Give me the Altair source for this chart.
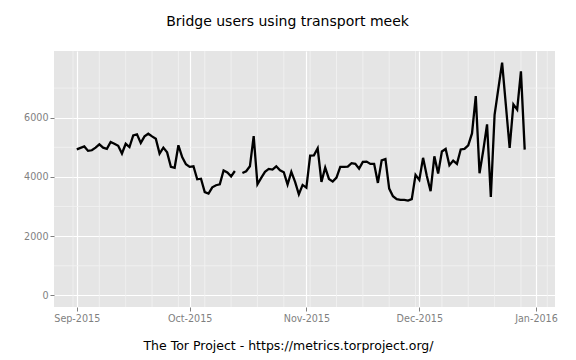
import altair as alt
import pandas as pd

# Daily bridge users (meek), 2015-09-01 .. 2015-12-29; None = missing day (Oct 14)
start_date = "2015-09-01"
users = [
    4930, 4980, 5030, 4880, 4900, 4990, 5100, 4990, 4950, 5180,
    5120, 5050, 4790, 5120, 5010, 5400, 5440, 5150, 5370, 5460,
    5370, 5290, 4790, 4990, 4830, 4340, 4310, 5070, 4670, 4430,
    4340, 4360, 3920, 3940, 3490, 3440, 3650, 3720, 3750, 4220,
    4150, 4020, 4200, None, 4130, 4190, 4360, 5380, 3750, 3970,
    4170, 4270, 4250, 4360, 4225, 4157, 3742, 4169, 3831, 3416,
    3730, 3640, 4719, 4730, 4966, 3831, 4315, 3933, 3843, 3978,
    4337, 4337, 4348, 4465, 4440, 4281, 4506, 4517, 4440, 4440,
    3798, 4562, 4605, 3607, 3348, 3250, 3225, 3225, 3202, 3250,
    4070, 3900, 4645, 4030, 3517, 4697, 4112, 4860, 4945, 4393,
    4550, 4440, 4927, 4945, 5067, 5470, 6730, 4125, 4900, 5775,
    3326, 6100, 6980, 7860, 6420, 4980, 6450, 6275, 7565, 4921,
]
dates = pd.date_range(start_date, periods=len(users), freq="D").strftime("%Y-%m-%d").tolist()

major_y = [0, 2000, 4000, 6000]
minor_y = [1000, 3000, 5000, 7000]
major_x = [(2015, 9), (2015, 10), (2015, 11), (2015, 12), (2016, 1)]
minor_x = pd.date_range("2015-08-31", "2016-01-04", freq="7D").strftime("%Y-%m-%d").tolist()

title_text = "Bridge users using transport meek"
caption_text = "The Tor Project - https://metrics.torproject.org/"

df = pd.DataFrame({"date": dates, "users": users})
ymax = max(v for v in users if v is not None)

FONT = "DejaVu Sans"
GREY = "#7F7F7F"

x_scale = alt.Scale(
    type="utc",
    domain=[
        alt.DateTime(year=2015, month=8, date=25, hours=22, minutes=48, utc=True),
        alt.DateTime(year=2016, month=1, date=6, hours=1, minutes=12, utc=True),
    ],
    nice=False,
)
y_scale = alt.Scale(domain=[-0.05 * ymax, 1.05 * ymax], nice=False, zero=False)

x_axis = alt.Axis(
    values=[alt.DateTime(year=y, month=m, date=1, utc=True) for y, m in major_x],
    labelExpr="utcFormat(datum.value, '%b-%Y')",
    title=caption_text,
    titleFont=FONT,
    titleFontSize=12.5,
    titleFontWeight="normal",
    titleColor="black",
    titleX=234,
    titleY=38,
    titleBaseline="middle",
    titleAlign="center",
    labelFont=FONT,
    labelFontSize=9.6,
    labelColor=GREY,
    labelPadding=2,
    tickColor=GREY,
    tickSize=4,
    domain=False,
    grid=True,
    gridColor="white",
    gridWidth=1.2,
    orient="bottom",
)
y_axis = alt.Axis(
    values=major_y,
    labelExpr="format(datum.value, 'd')",
    title=None,
    labelFont=FONT,
    labelFontSize=9.6,
    labelColor=GREY,
    labelPadding=2,
    tickColor=GREY,
    tickSize=4,
    domain=False,
    grid=True,
    gridColor="white",
    gridWidth=1.2,
    orient="left",
)

minor_v = alt.Chart(pd.DataFrame({"d": minor_x})).mark_rule(
    color="#F2F2F2", strokeWidth=0.8
).encode(x=alt.X("d:T", scale=x_scale, axis=None))

minor_h = alt.Chart(pd.DataFrame({"v": minor_y})).mark_rule(
    color="#F2F2F2", strokeWidth=0.8
).encode(y=alt.Y("v:Q", scale=y_scale, axis=None))

line = alt.Chart(df).mark_line(color="black", strokeWidth=2.3).encode(
    x=alt.X("date:T", scale=x_scale, axis=x_axis),
    y=alt.Y("users:Q", scale=y_scale, axis=y_axis),
)

chart = (
    alt.layer(minor_v, minor_h, line)
    .resolve_axis(x="independent", y="independent")
    .properties(
        width=501,
        height=256,
        autosize=alt.AutoSizeParams(type="none"),
        padding={"left": 46, "top": 43, "right": 12, "bottom": 48},
        title=alt.TitleParams(
            text=title_text,
            font=FONT,
            fontSize=14,
            fontWeight="normal",
            color="black",
            anchor="middle",
            offset=22,
            dx=-17,
        ),
        background="white",
    )
    .configure_view(fill="#E5E5E5", stroke=None)
)

chart.save("out.html", embed_options={"renderer": "svg", "actions": False})
